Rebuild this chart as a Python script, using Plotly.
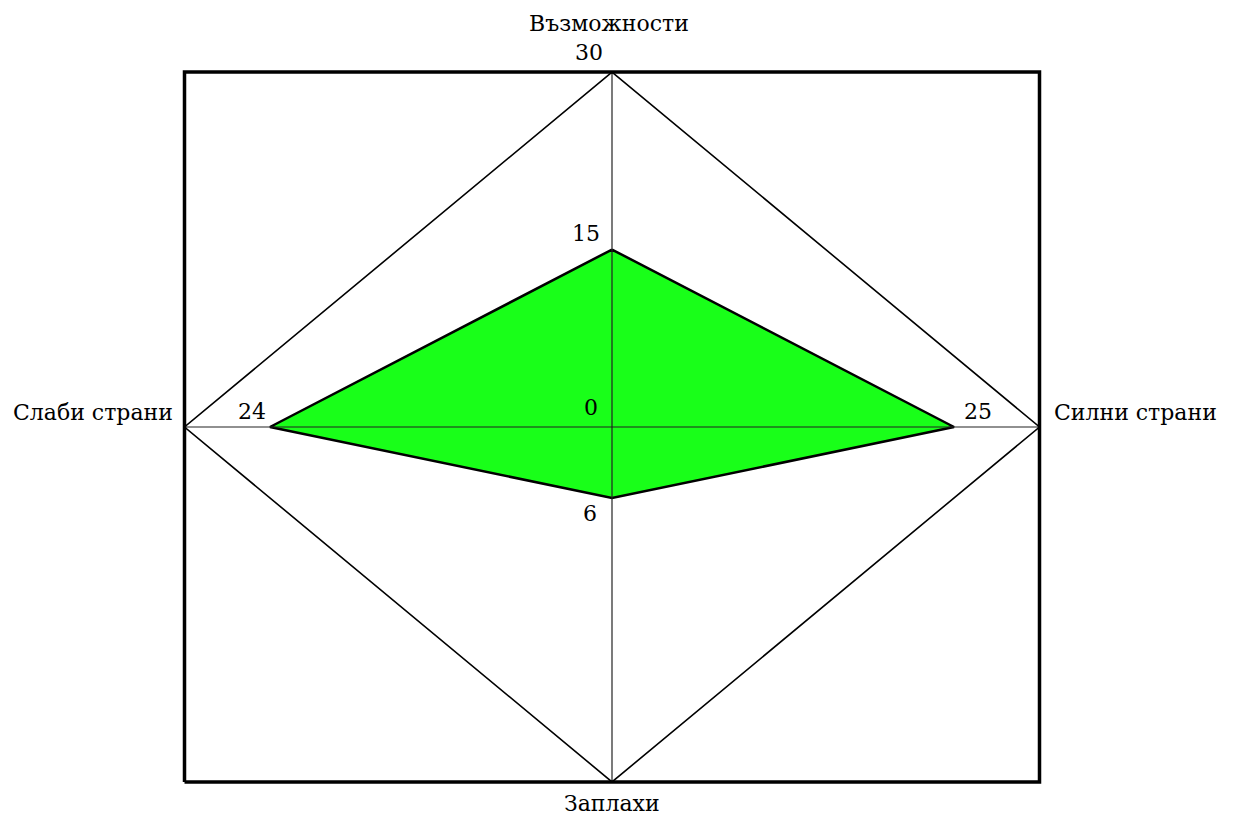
import plotly.graph_objects as go

# axis order: Възможности (up), Силни страни (right), Заплахи (down), Слаби страни (left)
axis_names = ["Възможности", "Силни страни", "Заплахи", "Слаби страни"]
axis_max = 30
# drawn vertex positions
values = [15, 24, 6, 24]
value_labels = ["15", "25", "6", "24"]

dirs = [(0, 1), (1, 0), (0, -1), (-1, 0)]

FONT = "DejaVu Serif"

fig = go.Figure()

# green SWOT polygon
px = [d[0] * v for d, v in zip(dirs, values)]
py = [d[1] * v for d, v in zip(dirs, values)]
fig.add_trace(go.Scatter(
    x=px + [px[0]], y=py + [py[0]], mode="lines", fill="toself",
    fillcolor="#19ff19", line=dict(color="black", width=2.5),
    hoverinfo="skip",
))

# cross lines
fig.add_trace(go.Scatter(
    x=[-axis_max, axis_max, None, 0, 0], y=[0, 0, None, -axis_max, axis_max],
    mode="lines", line=dict(color="#222222", width=1.2), hoverinfo="skip",
))

# outer diamond
dx = [d[0] * axis_max for d in dirs]
dy = [d[1] * axis_max for d in dirs]
fig.add_trace(go.Scatter(
    x=dx + [dx[0]], y=dy + [dy[0]], mode="lines",
    line=dict(color="black", width=1.6), hoverinfo="skip",
))

# outer frame
fig.add_trace(go.Scatter(
    x=[-axis_max, axis_max, axis_max, -axis_max, -axis_max],
    y=[-axis_max, -axis_max, axis_max, axis_max, -axis_max],
    mode="lines", line=dict(color="black", width=3.5), hoverinfo="skip",
))

ann = []
# axis names
ann.append(dict(x=0, y=axis_max, text=axis_names[0], yshift=49, xshift=-3))
ann.append(dict(x=axis_max, y=0, text=axis_names[1], xanchor="left", xshift=12, yshift=15))
ann.append(dict(x=0, y=-axis_max, text=axis_names[2], yshift=-22))
ann.append(dict(x=-axis_max, y=0, text=axis_names[3], xanchor="right", xshift=-10, yshift=15))
# scale labels
ann.append(dict(x=0, y=axis_max, text=str(axis_max), xshift=-23, yshift=20))
ann.append(dict(x=0, y=0, text="0", xshift=-21, yshift=20))
ann.append(dict(x=0, y=values[0], text=value_labels[0], xshift=-26, yshift=16))
ann.append(dict(x=values[1], y=0, text=value_labels[1], xshift=24, yshift=16))
ann.append(dict(x=0, y=-values[2], text=value_labels[2], xshift=-22, yshift=-16))
ann.append(dict(x=-values[3], y=0, text=value_labels[3], xshift=-18, yshift=16))

for a in ann:
    a.update(showarrow=False, xref="x", yref="y", font=dict(family=FONT, size=22, color="black"))

W, H = 1234, 816
sx = 14.25
sy = 11.83
cx, cy = 612, 427
fig.update_layout(
    width=W, height=H,
    margin=dict(l=0, r=0, t=0, b=0),
    paper_bgcolor="white", plot_bgcolor="white",
    showlegend=False,
    annotations=ann,
    xaxis=dict(range=[-cx / sx, (W - cx) / sx], visible=False, fixedrange=True),
    yaxis=dict(range=[-(H - cy) / sy, cy / sy], visible=False, fixedrange=True),
)

# drop the default 8px page margin so the figure fills the window
fig.write_html("out.html", config={"displayModeBar": False},
               post_script="document.body.style.margin='0';")
